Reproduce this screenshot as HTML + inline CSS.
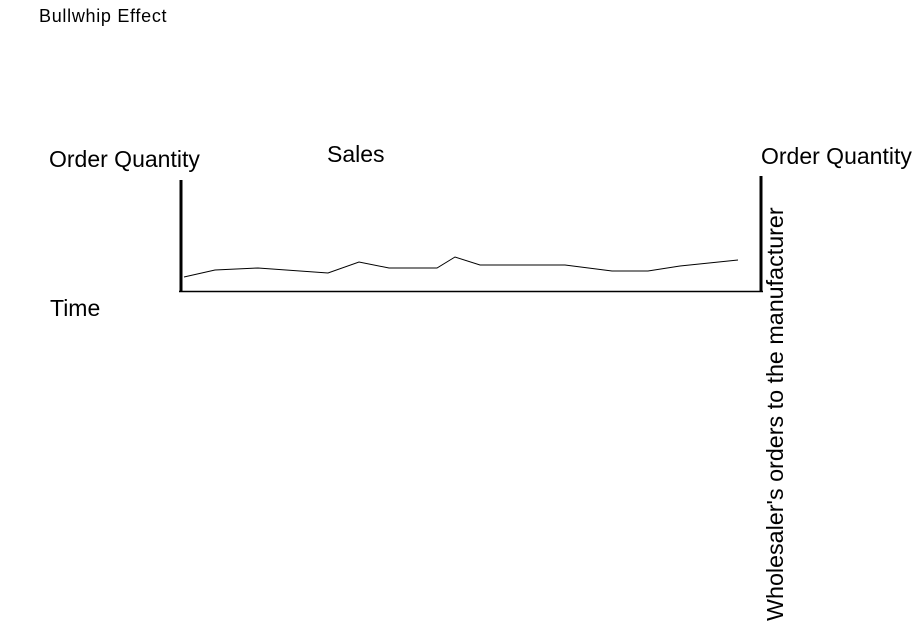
<!DOCTYPE html>
<html><head><style>
body{margin:0;width:916px;height:639px;background:#fff;position:relative;overflow:hidden;font-family:"Liberation Sans",Arial,sans-serif;color:#000}
.t{position:absolute;white-space:nowrap}
</style></head><body>
<div class="t" style="left:39px;top:6px;font-size:18px;letter-spacing:0.7px">Bullwhip Effect</div>
<div class="t" style="left:49px;top:146px;font-size:23px">Order Quantity</div>
<div class="t" style="left:327px;top:141px;font-size:23px">Sales</div>
<div class="t" style="left:761px;top:143px;font-size:23px">Order Quantity</div>
<div class="t" style="left:50px;top:295px;font-size:23px">Time</div>
<svg width="916" height="639" style="position:absolute;left:0;top:0">
<line x1="181" y1="180" x2="181" y2="292" stroke="#000" stroke-width="3"/>
<line x1="179" y1="291.5" x2="763" y2="291.5" stroke="#000" stroke-width="1.5"/>
<line x1="761" y1="176" x2="761" y2="292" stroke="#000" stroke-width="3"/>
<polyline fill="none" stroke="#000" stroke-width="1" points="184,277 215,270 258,268 328,273 359,262 389,268 437,268 455,257 480,265 565,265 612,271 648,271 680,266 738,260"/>
<text x="0" y="0" transform="translate(783,621) rotate(-90)" font-family="Liberation Sans, Arial, sans-serif" font-size="23.3">Wholesaler's orders to the manufacturer</text>
</svg>
</body></html>
